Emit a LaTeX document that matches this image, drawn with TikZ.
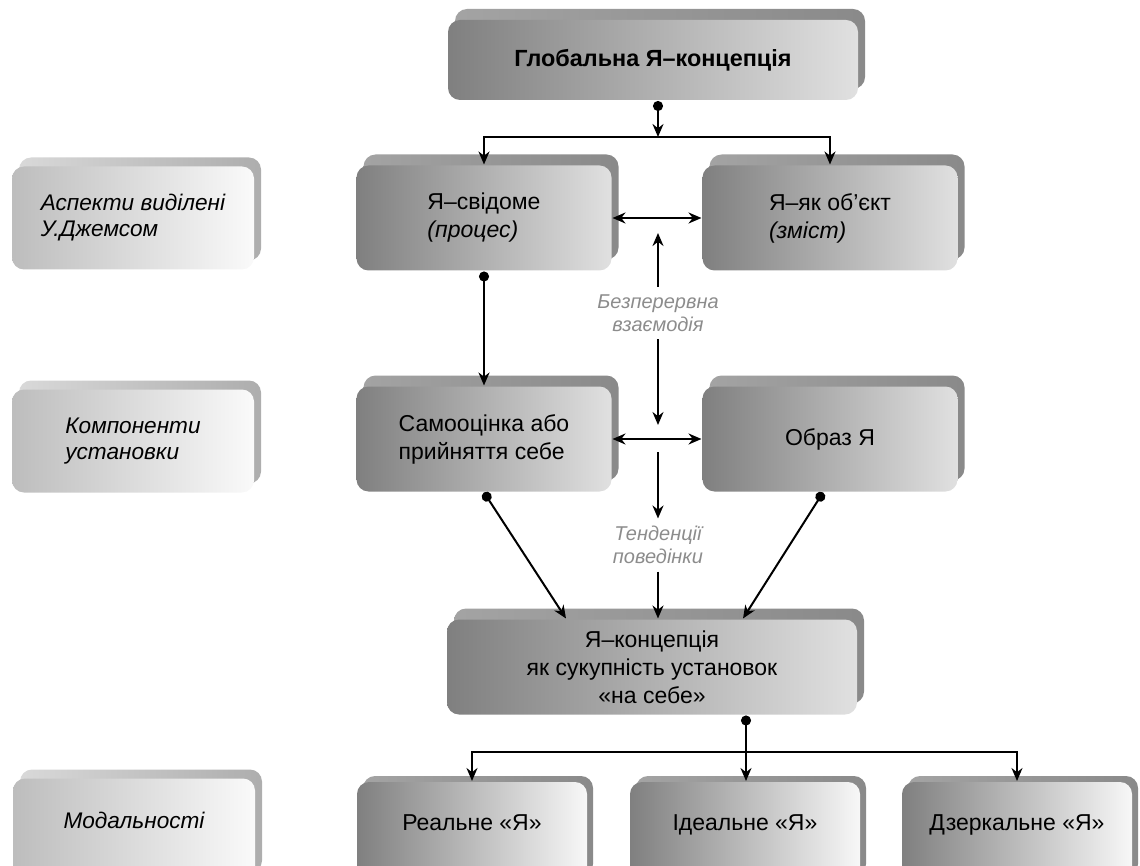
\documentclass[tikz,border=0pt]{standalone}
\usepackage{fontspec}
\setmainfont{Liberation Sans}
\usetikzlibrary{positioning}
\usetikzlibrary{shadows}
\usetikzlibrary{arrows.meta}

\begin{document}
\begin{tikzpicture}[x=0.5pt, y=-0.5pt, line width=1pt,
  arr/.style={-{Stealth[length=6.5pt, width=5.5pt]}},
  dotarr/.style={{Circle[length=5pt]}-{Stealth[length=6.5pt, width=5.5pt]}},
  twoarr/.style={{Stealth[length=6.5pt, width=5.5pt]}-{Stealth[length=6.5pt, width=5.5pt]}},
  card/.style={rounded corners=6pt, align=left, inner sep=0pt,
    font=\fontsize{11.5}{14}\selectfont},
  darkcard/.style={card, left color=black!50, right color=black!12,
    general shadow={shadow xshift=3.5pt, shadow yshift=5.5pt, left color=black!36, right color=black!46}},
  lightcard/.style={card, left color=black!26, right color=black!2,
    general shadow={shadow xshift=3.5pt, shadow yshift=4.5pt, left color=black!15, right color=black!32},
    minimum width=121pt, minimum height=51.5pt, font=\fontsize{11.3}{13}\selectfont\itshape},
  lowcard/.style={card, left color=black!50, right color=black!3,
    general shadow={shadow xshift=3pt, shadow yshift=3pt, left color=black!36, right color=black!46},
    minimum width=115pt, minimum height=50pt, text height=8pt, text depth=10pt},
  note/.style={text=black!45, align=center, font=\fontsize{10}{11.5}\selectfont\itshape}]

\useasboundingbox (0,0) rectangle (1140,866);

% left column
\node[lightcard] (asp) at (133,218) {Аспекти виділені\\У.Джемсом};
\node[lightcard] (komp) at (133,441) {Компоненти\\установки};
\node[lightcard, text height=8pt, text depth=10pt] (mod) at (134,830) {Модальності};

% main boxes
\node[darkcard, minimum width=205pt, minimum height=40pt, font=\fontsize{11.7}{14}\selectfont] (glob) at (653,60) {\textbf{Глобальна Я–концепція}};

\node[darkcard, minimum width=127.5pt, minimum height=52.5pt] (svid) at (484,218) {Я–свідоме\\\textit{(процес)}};
\node[darkcard, minimum width=127.5pt, minimum height=52.5pt] (obj) at (830,218) {Я–як об’єкт\\\textit{(зміст)}};

\node[darkcard, minimum width=127.5pt, minimum height=52.5pt] (samo) at (484,439) {Самооцінка або\\прийняття себе};
\node[darkcard, minimum width=127.5pt, minimum height=52.5pt] (obraz) at (830,439) {Образ Я};

\node[darkcard, align=center, minimum width=205pt, minimum height=47.5pt] (konc) at (652,667) {Я–концепція\\як сукупність установок\\«на себе»};

\node[lowcard] (real) at (472,832) {Реальне «Я»};
\node[lowcard] (ideal) at (745,832) {Ідеальне «Я»};
\node[lowcard] (dzerk) at (1017,832) {Дзеркальне «Я»};

\node[note] (bez) at (658,313) {Безперервна\\взаємодія};
\node[note] (tend) at (658,545) {Тенденції\\поведінки};

% connectors
\coordinate (gdot) at ([xshift=2.5pt]glob.south);
\coordinate (split1) at (658,137);
\draw[dotarr] (gdot) -- (split1);
\draw[arr] (split1) -| (svid.north);
\draw[arr] (split1) -| (obj.north);

\draw[twoarr] (svid) -- (obj);
\coordinate (up1) at (658,233);
\coordinate (dn1) at (658,425);
\draw[arr] (bez) -- (up1);
\draw[arr] (bez) -- (dn1);

\draw[dotarr] (svid.south) -- (samo.north);
\draw[twoarr] (samo) -- (obraz);

\coordinate (dn2) at (658,452);
\draw[arr] (dn2) -- (tend);
\draw[arr] (tend) -- (tend |- konc.north);

\draw[dotarr] (samo.south) -- ([xshift=60pt]konc.north west);
\draw[dotarr] ([xshift=-3.5pt]obraz.south) -- ([xshift=-57.5pt]konc.north east);

\coordinate (kdot) at ([xshift=-56pt]konc.south east);
\coordinate (split2) at (kdot |- 0,752);
\draw[dotarr] (kdot) -- (kdot |- ideal.north);
\draw[arr] (split2) -| (real.north);
\draw[arr] (split2) -| (dzerk.north);

\end{tikzpicture}
\end{document}
